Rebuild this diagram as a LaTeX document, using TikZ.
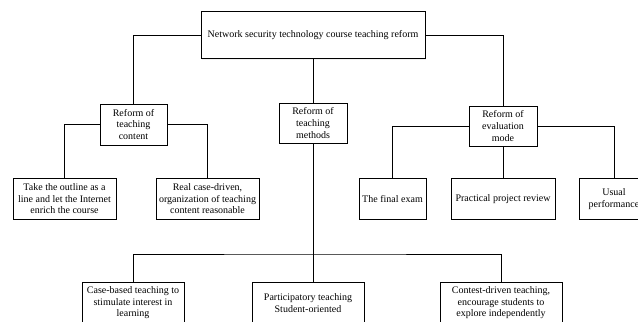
\documentclass[tikz,border=0pt]{standalone}
\usepackage{fontspec}
\setmainfont{Liberation Serif}
\usetikzlibrary{shadows}
\begin{document}
\begin{tikzpicture}[x=0.75pt,y=-0.75pt,
		box/.style={draw,line width=0.75pt,fill=white,align=center,inner sep=0pt,
			font=\fontsize{7.5}{8.8}\selectfont,
			drop shadow={opacity=0.12,shadow xshift=0.8pt,shadow yshift=-0.8pt}},
		link/.style={line width=0.75pt}]
	\useasboundingbox (0,0) rectangle (638,321);
	\node[box,minimum width=168pt,minimum height=35.25pt] (reform) at (313,35.5) {Network security technology course teaching reform};
	\node[box,minimum width=50.25pt,minimum height=30.75pt] (content) at (133.5,124.5) {Reform of\\teaching\\content};
	\node[box,minimum width=51pt,minimum height=30pt] (methods) at (313,123) {Reform of\\teaching\\methods};
	\node[box,minimum width=51pt,minimum height=30pt] (evaluation) at (503,126) {Reform of\\evaluation\\mode};
	\node[box,minimum width=77.25pt,minimum height=30.75pt] (outline) at (64.5,198.8) {Take the outline as a\\line and let the Internet\\enrich the course};
	\node[box,minimum width=77.25pt,minimum height=30.75pt] (realcase) at (207.5,198.8) {Real case-driven,\\organization of teaching\\content reasonable};
	\node[box,minimum width=50.25pt,minimum height=30.75pt] (exam) at (392.5,198.8) {The final exam};
	\node[box,minimum width=78pt,minimum height=30.75pt] (project) at (503,198.8) {Practical project review};
	\node[box,minimum width=52.5pt,minimum height=30.75pt] (usual) at (614,198.8) {Usual\\performance};
	\node[box,minimum width=76.5pt,minimum height=30.75pt] (casebased) at (133,302.8) {Case-based teaching to\\stimulate interest in\\learning};
	\node[box,minimum width=84pt,minimum height=30.75pt] (participatory) at (308,302.8) {Participatory teaching\\Student-oriented};
	\node[box,minimum width=91.5pt,minimum height=30.75pt] (contest) at (501,302.8) {Contest-driven teaching,\\encourage students to\\explore independently};
	\coordinate (bus) at (313,254);
	\draw[link] (reform.west) -| (content.north);
	\draw[link] (reform.south) -- (methods.north);
	\draw[link] (reform.east) -| (evaluation.north);
	\draw[link] (content.west) -| (outline.north);
	\draw[link] (content.east) -| (realcase.north);
	\draw[link] (evaluation.west) -| (exam.north);
	\draw[link] (evaluation.south) -- (project.north);
	\draw[link] (evaluation.east) -| (usual.north);
	\draw[link] (methods.south) -- (methods.south |- participatory.north);
	\draw[link] (casebased.north) |- (bus) -| (contest.north);
\end{tikzpicture}
\end{document}
